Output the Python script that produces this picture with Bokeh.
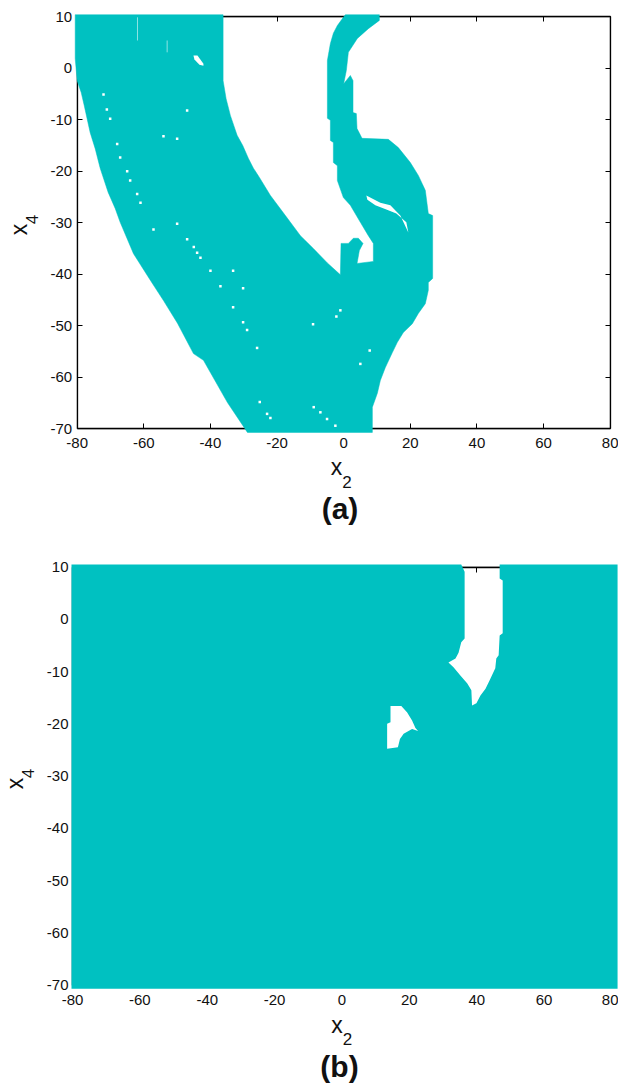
from bokeh.embed import file_html
from bokeh.resources import INLINE
from bokeh.models import BoxAnnotation, FixedTicker, Label, LinearAxis, Range1d
from bokeh.plotting import figure

TEAL = "#00c1c1"
INK = "#111111"
SANS = "Liberation Sans"
PAGE_W, PAGE_H = 618, 1084
X_TICKS = [-80, -60, -40, -20, 0, 20, 40, 60, 80]
Y_TICKS = [-70, -60, -50, -40, -30, -20, -10, 0, 10]

# (a) feasible region outline (x2, x4)
a_x = [-80.6, -36.2, -36.2, -35.3, -34.0, -33.0, -32.0, -30.3, -28.6, -27.1, -25.3, -22.0, -17.5, -13.0, -9.1, -4.9,
       -1.0, -0.8, 1.4, 2.9, 4.4, 5.8, 4.7, 4.0, 8.9, 8.9, 7.4, 5.0, 2.0, -0.1, -1.9, -1.9, -3.1, -3.1, -4.0, -4.0,
       -4.9, -4.9, -4.0, -3.1, -1.9, -0.1, 0.5, 10.7, 10.7, 7.4, 4.1, 1.4, 0.8, 0.0, 2.0, 2.8, 2.8, 3.8, 4.0, 5.5,
       13.4, 16.4, 20.0, 22.4, 24.5, 25.4, 26.7, 26.7, 25.4, 25.4, 24.5, 22.4, 20.6, 17.9, 16.1, 14.6, 12.5, 11.0,
       10.1, 8.6, 8.6, -28.9, -34.9, -42.1, -45.1, -49.9, -54.1, -58.0, -63.1, -67.1, -68.6, -70.7, -73.1, -74.6,
       -76.1, -77.9, -78.8, -80.0, -80.6]
a_y = [10.4, 10.4, -2.4, -5.9, -9.2, -11.1, -13.0, -15.0, -17.5, -19.4, -21.2, -24.7, -28.6, -32.5, -35.0, -37.8,
       -40.1, -34.0, -34.0, -33.0, -33.0, -34.0, -35.4, -37.9, -37.5, -34.0, -32.5, -29.9, -26.6, -25.1, -21.8, -18.9,
       -18.3, -14.4, -14.0, -10.1, -9.7, 1.5, 4.8, 6.8, 8.3, 9.9, 10.4, 10.4, 9.3, 7.7, 5.8, 3.1, -0.4, -3.0, -1.4,
       -2.4, -8.6, -8.8, -11.7, -13.6, -13.8, -15.4, -18.3, -20.8, -23.7, -28.2, -28.6, -40.8, -41.6, -43.1, -45.7,
       -47.6, -49.6, -51.3, -53.2, -55.2, -58.1, -60.6, -63.1, -65.8, -70.7, -70.7, -64.9, -56.7, -55.4, -49.5, -45.1,
       -41.2, -36.0, -29.9, -27.2, -24.1, -19.4, -15.6, -12.5, -7.2, -4.7, -2.4, 1.9]

# (a) gaps inside the region
a_blob_x = [-45.1, -43.9, -42.1, -42.1, -43.3, -44.8]
a_blob_y = [2.5, 2.5, 0.9, 0.5, 0.7, 1.7]
a_slit_x = [6.8, 11.0, 14.0, 17.0, 19.4, 18.8, 15.8, 12.8, 9.5, 7.1]
a_slit_y = [-24.7, -26.1, -26.6, -28.6, -31.9, -29.9, -28.2, -27.4, -26.6, -25.5]
a_speck_x = [-72.1, -71.1, -70.1, -68.0, -67.1, -65.0, -64.1, -62.0, -61.0, -54.1, -50.0, -47.0, -50.0, -57.1, -47.0,
             -45.0, -44.0, -43.0, -40.0, -33.2, -30.2, -37.0, -33.2, -30.2, -29.0, -26.0, -25.2, -23.0, -22.0, -1.0,
             -9.2, -2.2, 7.8, 5.0, -7.0, -5.0, -2.5, -9.0]
a_speck_y = [-5.1, -8.0, -9.8, -14.7, -17.3, -20.0, -21.8, -24.4, -26.1, -13.2, -13.7, -8.2, -30.2, -31.3, -33.2,
             -34.7, -35.8, -36.8, -39.3, -39.3, -42.7, -42.3, -46.4, -49.3, -50.8, -54.3, -64.8, -67.1, -67.9, -47.0,
             -49.7, -48.2, -54.8, -57.4, -66.8, -68.1, -69.4, -65.8]
a_streak_x0 = [-53.0, -61.9]
a_streak_y0 = [5.4, 9.9]
a_streak_x1 = [-53.0, -61.9]
a_streak_y1 = [3.1, 5.4]

# (b) feasible region outline, running round the slot at the top
b_x = [-80.3, -80.3, 35.4, 36.4, 36.4, 35.4, 34.6, 33.7, 31.6, 33.1, 35.2, 37.2, 38.4, 38.6, 39.9, 41.1, 42.6, 43.8,
       45.5, 45.8, 46.5, 46.8, 47.7, 47.7, 46.8, 46.8, 81.8, 81.8]
b_y = [-70.7, 10.5, 10.5, 9.1, -3.7, -4.4, -6.4, -7.5, -8.3, -9.2, -10.8, -12.3, -13.6, -16.5, -16.1, -14.6, -13.3,
       -11.7, -9.4, -7.5, -6.9, -3.1, -2.7, 7.4, 7.8, 10.5, 10.5, -70.7]
# (b) enclosed gap
b_hole_x = [14.4, 17.6, 19.3, 20.8, 21.8, 22.6, 20.8, 18.3, 17.2, 16.6, 13.4, 13.4, 14.4]
b_hole_y = [-16.6, -16.6, -17.8, -19.4, -20.8, -21.4, -21.0, -21.9, -22.9, -24.5, -24.8, -20.0, -19.7]


def page_range(v0, px0, v1, px1, size, downward=False):
    """A range over the whole page that puts v0 at pixel px0 and v1 at pixel px1."""
    per_px = (v1 - v0) / (px1 - px0)
    at_zero, at_size = v0 - px0 * per_px, v0 + (size - px0) * per_px
    return Range1d(at_size, at_zero) if downward else Range1d(at_zero, at_size)


# One frame covers the page, so that the regions may overhang the axes and no text is cut.
p = figure(width=PAGE_W, height=PAGE_H, output_backend="svg", toolbar_location=None,
           x_range=Range1d(0, PAGE_W), y_range=Range1d(PAGE_H, 0), x_axis_location=None, y_axis_location=None,
           min_border=0)
p.outline_line_color = None
p.xgrid.visible = False
p.ygrid.visible = False
p.extra_x_ranges = {"a": page_range(-80, 76.7, 80, 609.7, PAGE_W), "b": page_range(-80, 72, 80, 611, PAGE_W)}
p.extra_y_ranges = {"a": page_range(10, 16.3, -70, 428.3, PAGE_H, True),
                    "b": page_range(10, 566.5, -70, 984.5, PAGE_H, True)}

tick_text = {t: str(t) for t in X_TICKS + Y_TICKS}


def axes(name, x_standoff, y_standoff):
    p.add_layout(BoxAnnotation(left=X_TICKS[0], right=X_TICKS[-1], bottom=Y_TICKS[0], top=Y_TICKS[-1],
                               x_range_name=name, y_range_name=name, fill_alpha=0, line_color="black",
                               line_width=1.3, level="underlay"))
    for side, loc, ticks, bounds, standoff in [("below", Y_TICKS[0], X_TICKS, (-80, 80), x_standoff),
                                                ("above", Y_TICKS[-1], X_TICKS, (-80, 80), None),
                                                ("left", X_TICKS[0], Y_TICKS, (-70, 10), y_standoff),
                                                ("right", X_TICKS[-1], Y_TICKS, (-70, 10), None)]:
        ax = LinearAxis(ticker=FixedTicker(ticks=ticks), fixed_location=loc, bounds=bounds, level="underlay",
                        x_range_name=name, y_range_name=name, axis_line_color="black", axis_line_width=1.3,
                        major_tick_line_width=1.0, major_tick_line_color="black", major_tick_in=5, major_tick_out=0,
                        minor_tick_line_color=None, major_label_overrides=tick_text, major_label_text_font=SANS,
                        major_label_text_font_size="15px" if standoff is not None else "0px",
                        major_label_text_color=INK if standoff is not None else None,
                        major_label_standoff=standoff if standoff is not None else 0)
        p.add_layout(ax, side)


def labels(items):
    for text, x, y, size, bold, angle in items:
        p.add_layout(Label(x=x, y=y, text=text, text_font=SANS, text_font_size=size,
                           text_font_style="bold" if bold else "normal", text_color=INK,
                           text_align="center", text_baseline="alphabetic", angle=angle))


axes("a", 9, 5)
axes("b", 10, 4)

A = dict(x_range_name="a", y_range_name="a")
B = dict(x_range_name="b", y_range_name="b")
p.patch(a_x, a_y, fill_color=TEAL, line_color=TEAL, line_width=0.5, **A)
p.patch(a_blob_x, a_blob_y, fill_color="white", line_color=None, **A)
p.patch(a_slit_x, a_slit_y, fill_color="white", line_color=None, **A)
p.scatter(a_speck_x, a_speck_y, marker="square", size=2.5, fill_color="white", line_color=None, **A)
p.segment(a_streak_x0, a_streak_y0, a_streak_x1, a_streak_y1, line_color="white", line_width=0.8, line_alpha=0.7, **A)
p.patch(b_x, b_y, fill_color=TEAL, line_color=None, **B)
p.patch(b_hole_x, b_hole_y, fill_color="white", line_color=None, **B)

labels([("x", 336, 466, "23px", False, 0), ("2", 346.5, 481, "17px", False, 0),
        ("(a)", 339.5, 508, "30px", True, 0),
        ("x", 18, 229, "23px", False, 1.5708), ("4", 31, 219, "17px", False, 1.5708),
        ("x", 336.6, 1024, "23px", False, 0), ("2", 347, 1038, "17px", False, 0),
        ("(b)", 339, 1066, "30px", True, 0),
        ("x", 14, 783, "23px", False, 1.5708), ("4", 27, 773, "17px", False, 1.5708)])

open("out.html", "w").write(file_html(p, INLINE))
